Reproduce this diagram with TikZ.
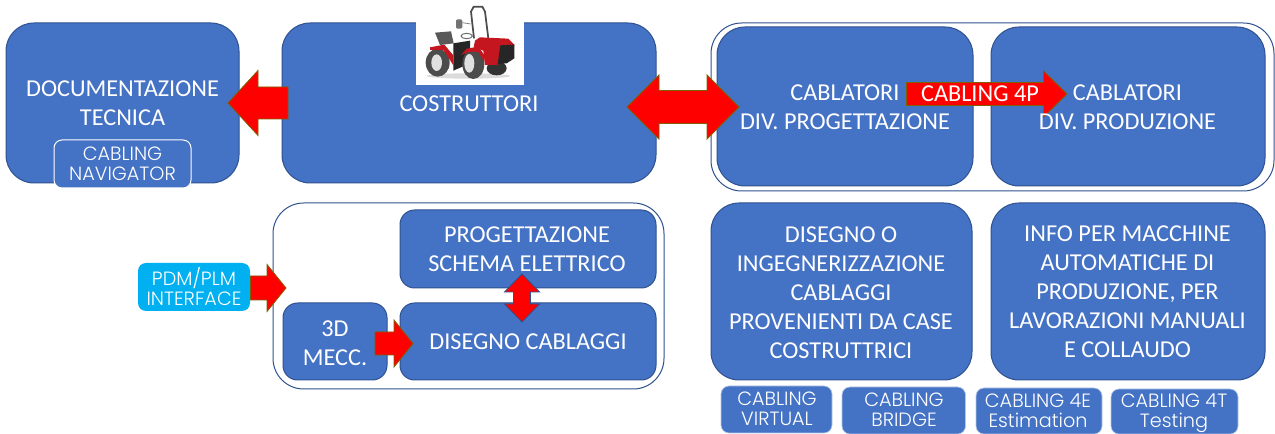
\documentclass[tikz,border=0pt]{standalone}
\usepackage{fontspec}
\usetikzlibrary{calc}
\setmainfont{Carlito}
\newfontfamily\geofont{Poppins Light}
\definecolor{boxblue}{HTML}{4472C4}
\definecolor{boxedge}{HTML}{2F528F}
\definecolor{cyanbox}{HTML}{00B0F0}
\definecolor{arrowedge}{HTML}{7F6000}
\definecolor{tracred}{HTML}{C4161F}
\tikzset{
  x=.75pt,y=-.75pt,
  base/.style={inner sep=0pt,outer sep=0pt,align=center,text=white},
  bigbox/.style={base,draw=boxedge,fill=boxblue,line width=.75pt,rounded corners=21pt},
  midbox/.style={base,draw=boxedge,fill=boxblue,line width=.75pt,rounded corners=11pt},
  tagbox/.style={base,draw=white!60!boxblue,fill=boxblue,line width=.5pt,rounded corners=6pt},
  navbox/.style={base,draw=white,fill=boxblue,line width=.75pt,rounded corners=6pt},
  cyantag/.style={base,fill=cyanbox,rounded corners=6pt},
  frame/.style={base,draw=boxedge,line width=.75pt,rounded corners=23pt},
  maintxt/.style={base,font=\fontsize{18.2}{21.8}\selectfont},
  smalltxt/.style={base,font=\geofont\fontsize{14.4}{15}\selectfont},
  redarrow/.style={fill=red,draw=arrowedge,line width=.6pt,line join=miter},
  redarrowb/.style={fill=red,draw=boxedge,line width=.6pt,line join=miter},
}
% box from corners in px: style, name, x1, y1, x2, y2
\newcommand\pxbox[6]{%
  \pgfmathsetmacro\bw{(#5-#3)*.75}\pgfmathsetmacro\bh{(#6-#4)*.75}%
  \pgfmathsetmacro\bx{(#3+#5)/2}\pgfmathsetmacro\by{(#4+#6)/2}%
  \node[#1,minimum width=\bw pt,minimum height=\bh pt] (#2) at (\bx,\by) {};}
% single block arrow: style, tail, tip, head length, half head, half shaft (px)
\newcommand\singlearrow[6]{%
  \coordinate (hb) at ($(#3)!#4*.75pt!(#2)$);
  \draw[#1] ($(#2)!#6*.75pt!90:(#3)$) -- ($(hb)!#6*.75pt!90:(#3)$) -- ($(hb)!#5*.75pt!90:(#3)$)
    -- (#3) -- ($(hb)!#5*.75pt!-90:(#3)$) -- ($(hb)!#6*.75pt!-90:(#3)$) -- ($(#2)!#6*.75pt!-90:(#3)$) -- cycle;}
% double block arrow: style, tip a, tip b, head length, half head, half shaft (px)
\newcommand\doublearrow[6]{%
  \coordinate (ha) at ($(#2)!#4*.75pt!(#3)$);
  \coordinate (hz) at ($(#3)!#4*.75pt!(#2)$);
  \draw[#1] (#2) -- ($(ha)!#5*.75pt!90:(#3)$) -- ($(ha)!#6*.75pt!90:(#3)$) -- ($(hz)!#6*.75pt!90:(#3)$)
    -- ($(hz)!#5*.75pt!90:(#3)$) -- (#3) -- ($(hz)!#5*.75pt!-90:(#3)$) -- ($(hz)!#6*.75pt!-90:(#3)$)
    -- ($(ha)!#6*.75pt!-90:(#3)$) -- ($(ha)!#5*.75pt!-90:(#3)$) -- cycle;}
\begin{document}
\begin{tikzpicture}
\useasboundingbox (0,0) rectangle (1275,434);
\fill[white] (0,0) rectangle (1275,434);
% frames
\pxbox{frame}{frameA}{711}{23}{1274}{191}
\pxbox{frame}{frameB}{273}{203}{664}{389}
% big boxes
\pxbox{bigbox}{doc}{6}{23}{239}{183}
\pxbox{bigbox}{cost}{282}{23}{656}{183}
\pxbox{bigbox}{cabA}{717}{27}{973}{186}
\pxbox{bigbox}{cabB}{991}{27}{1265}{186}
\pxbox{bigbox}{dis}{711}{203}{972}{380}
\pxbox{bigbox}{info}{991}{203}{1265}{380}
\pxbox{midbox}{prog}{400}{210}{656}{288}
\pxbox{midbox}{cabl}{400}{303}{656}{380}
\pxbox{midbox}{mecc}{283}{303}{387}{380}
\pxbox{navbox}{nav}{54}{140}{191}{188}
\pxbox{cyantag}{pdm}{138}{263}{250}{311}
\pxbox{tagbox}{virt}{721}{386}{832}{433}
\pxbox{tagbox}{bridge}{842}{387}{965.5}{434}
\pxbox{tagbox}{est}{976}{388}{1102}{434}
\pxbox{tagbox}{test}{1111}{389}{1238}{434}
% tractor picture
\fill[white] (416,0) rectangle (524,85);
\begin{scope}[shift={(425,0)},x=.25pt,y=-.25pt]
  \fill[black!14] (130,228) ellipse [x radius=125,y radius=8];
  \draw[black!70,line width=1.3pt,line join=round] (147,115) -- (138,35) -- (146,20) -- (172,20) -- (180,35) -- (190,115);
  \fill[black!55,rounded corners=1pt] (93,58) rectangle (112,86);
  \draw[black!55,line width=.5pt] (112,68) -- (137,72);
  \fill[black!80] (215,205) ellipse [x radius=30,y radius=21];
  \fill[black!65] (30,98) -- (78,94) -- (86,130) -- (45,135) -- cycle;
  \draw[black!60,line width=.7pt] (125,108) ellipse [x radius=17,y radius=8];
  \fill[black!85] (85,130) -- (135,122) -- (135,190) -- (85,212) -- cycle;
  \fill[black!70] (38,188) ellipse [x radius=36,y radius=42];
  \fill[black!12] (35,188) ellipse [x radius=16,y radius=25];
  \fill[tracred] (15,142) -- (58,134) -- (84,165) -- (86,198) -- (70,172) -- (55,150) -- (15,150) -- cycle;
  \fill[tracred] (150,122) -- (165,112) -- (250,116) -- (268,134) -- (265,152) -- (228,152) -- (218,195) -- (180,195) -- (175,152) -- (146,142) -- cycle;
  \fill[black!85] (226,136) -- (268,134) -- (268,175) -- (245,190) -- (218,192) -- cycle;
  \fill[black!70] (145,192) ellipse [x radius=33,y radius=45];
  \fill[black!12] (133,190) ellipse [x radius=15,y radius=28];
  \fill[tracred] (108,165) -- (125,146) -- (160,140) -- (178,165) -- (178,186) -- (160,156) -- (130,156) -- cycle;
\end{scope}
% block arrows
\coordinate (docEnd) at (228,103);
\coordinate (costL) at (288,103);
\singlearrow{redarrow}{costL}{docEnd}{30}{32.5}{16}
\coordinate (costR) at (627,107);
\coordinate (cabAL) at (739,107);
\doublearrow{redarrow}{costR}{cabAL}{32}{32}{16.5}
\coordinate (cabAR) at (906.5,94);
\coordinate (cabBL) at (1067,94);
\singlearrow{redarrow}{cabAR}{cabBL}{23.5}{23}{11.5}
\coordinate (pdmR) at (250.5,288);
\coordinate (frameL) at (286,288);
\singlearrow{redarrow}{pdmR}{frameL}{19}{23.5}{12}
\coordinate (meccR) at (375,343.5);
\coordinate (cablL) at (413,343.5);
\singlearrow{redarrow}{meccR}{cablL}{19}{23.5}{11.5}
\coordinate (progB) at (522,274);
\coordinate (cablT) at (522,322);
\doublearrow{redarrowb}{progB}{cablT}{18}{17.5}{8.5}
% texts
\node[maintxt] (tDoc) at (122.5,103.5) {DOCUMENTAZIONE\\TECNICA};
\node[maintxt] (tCost) at (469,104) {COSTRUTTORI};
\node[maintxt] (tCabA) at (845,107) {CABLATORI\\DIV. PROGETTAZIONE};
\node[maintxt] (tCabB) at (1127.5,107) {CABLATORI\\DIV. PRODUZIONE};
\node[maintxt] (t4P) at (980,94) {CABLING 4P};
\node[maintxt] (tProg) at (527,249) {PROGETTAZIONE\\SCHEMA ELETTRICO};
\node[maintxt] (tCabl) at (528,342) {DISEGNO CABLAGGI};
\node[maintxt] (tMecc) at (335,343) {3D\\MECC.};
\node[maintxt] (tDis) at (841,292.5) {DISEGNO O\\INGEGNERIZZAZIONE\\CABLAGGI\\PROVENIENTI DA CASE\\COSTRUTTRICI};
\node[maintxt] (tInfo) at (1127.5,291.5) {INFO PER MACCHINE\\AUTOMATICHE DI\\PRODUZIONE, PER\\LAVORAZIONI MANUALI\\E COLLAUDO};
\node[smalltxt] (tNav) at (122.5,164) {CABLING\\NAVIGATOR};
\node[smalltxt] (tPdm) at (194,287) {PDM/PLM\\INTERFACE};
\node[smalltxt] (tVirt) at (777,409) {CABLING\\VIRTUAL};
\node[smalltxt] (tBridge) at (904,410) {CABLING\\BRIDGE};
\node[smalltxt] (tEst) at (1038,411) {CABLING 4E\\Estimation};
\node[smalltxt] (tTest) at (1174,413) {CABLING 4T\\Testing};
\end{tikzpicture}
\end{document}
